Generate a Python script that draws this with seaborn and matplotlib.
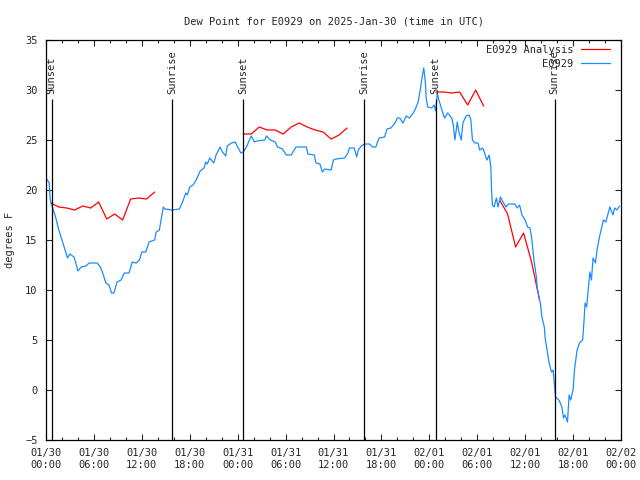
import numpy as np
import pandas as pd
import matplotlib
matplotlib.use("Agg")
import matplotlib.pyplot as plt
import matplotlib.dates as mdates
from matplotlib.ticker import MultipleLocator
import seaborn as sns

start = pd.Timestamp("2025-01-30 00:00")

# station obs, hours after 01/30 00:00 UTC and dew point in F
obs_hours = [0.0, 0.1, 0.4, 0.5, 0.6, 0.8, 1.2, 1.6, 2.0, 2.5, 2.7, 3.0, 3.5, 3.7, 4.0, 4.4,
             5.0, 5.4, 6.4, 6.8, 7.1, 7.5, 7.9, 8.2, 8.5, 8.9, 9.4, 9.8, 10.4, 10.8, 11.3, 11.7,
             12.0, 12.5, 12.9, 13.6, 13.8, 14.2, 14.4, 14.7, 14.9, 15.8, 16.7, 17.1, 17.5, 17.7,
             18.0, 18.4, 18.8, 19.3, 19.8, 20.0, 20.2, 20.5, 21.0, 21.3, 21.8, 22.1, 22.5, 22.7,
             23.2, 23.7, 24.0, 24.4, 24.7, 25.1, 25.7, 26.1, 26.4, 27.4, 27.6, 28.1, 28.7, 29.0,
             29.6, 30.1, 30.7, 31.3, 31.7, 32.6, 32.8, 33.6, 33.8, 34.3, 34.6, 34.9, 35.7, 36.0,
             36.3, 37.4, 37.8, 38.0, 38.6, 38.9, 39.1, 39.5, 39.9, 40.5, 40.9, 41.3, 41.7, 42.4,
             42.7, 43.2, 43.7, 44.0, 44.3, 44.7, 45.1, 45.5, 46.0, 46.3, 46.6, 46.9, 47.1, 47.3,
             47.5, 47.6, 47.8, 48.3, 48.6, 48.8, 49.0, 49.2, 49.5, 49.9, 50.3, 50.8, 51.0, 51.2,
             51.5, 51.7, 52.0, 52.2, 52.6, 53.0, 53.2, 53.4, 53.7, 54.1, 54.3, 54.7, 55.0, 55.2,
             55.5, 55.7, 55.8, 55.9, 56.1, 56.4, 56.6, 56.9, 57.3, 57.6, 57.9, 58.7, 59.0, 59.3,
             59.6, 60.0, 60.3, 60.6, 60.8, 61.1, 61.4, 61.5, 61.8, 61.9, 62.1, 62.4, 62.5, 62.8,
             63.0, 63.3, 63.5, 63.7, 63.8, 64.2, 64.4, 64.6, 64.8, 65.0, 65.3, 65.5, 65.7, 66.0,
             66.2, 66.5, 66.8, 67.2, 67.4, 67.5, 67.7, 67.9, 68.1, 68.3, 68.5, 68.8, 69.0, 69.3,
             69.6, 69.8, 70.1, 70.4, 70.6, 71.0, 71.2, 71.5, 71.8]
obs_dewpt = [21.0, 21.1, 20.7, 19.3, 18.8, 18.3, 17.3, 16.0, 15.0, 13.7, 13.2, 13.6, 13.3, 12.8, 11.9, 12.3,
             12.4, 12.7, 12.7, 12.3, 11.7, 10.7, 10.5, 9.7, 9.7, 10.8, 11.0, 11.7, 11.7, 12.8, 12.7, 13.0,
             13.8, 13.8, 14.8, 15.0, 15.8, 16.0, 17.0, 18.3, 18.1, 18.0, 18.1, 18.8, 19.7, 19.5,
             20.3, 20.5, 21.0, 21.9, 22.2, 22.8, 22.6, 23.2, 22.7, 23.5, 24.3, 23.8, 23.4, 24.4,
             24.7, 24.8, 24.3, 23.7, 23.8, 24.3, 25.4, 24.8, 24.9, 25.0, 25.4, 25.0, 24.8, 24.3,
             24.1, 23.5, 23.5, 24.3, 24.3, 24.3, 23.6, 23.5, 22.7, 22.6, 21.8, 22.1, 22.0, 23.0,
             23.1, 23.2, 23.7, 24.2, 24.2, 23.3, 24.0, 24.4, 24.6, 24.6, 24.3, 24.3, 25.2, 25.3,
             26.1, 26.2, 26.7, 27.2, 27.2, 26.7, 27.4, 27.2, 27.7, 28.2, 28.8, 30.2, 31.3, 32.2,
             30.8, 29.2, 28.3, 28.2, 28.5, 27.9, 29.7, 29.0, 28.2, 27.2, 27.7, 27.2, 26.5, 25.0,
             26.8, 25.8, 25.0, 26.7, 27.4, 27.5, 27.0, 25.0, 24.7, 24.7, 24.0, 24.2, 23.5, 23.0,
             23.5, 22.3, 19.8, 18.5, 18.3, 19.2, 18.3, 19.3, 18.7, 18.3, 18.6, 18.6, 18.2, 18.5,
             17.5, 17.0, 16.3, 16.2, 15.3, 13.0, 11.3, 10.3, 9.0, 8.7, 7.3, 6.3, 5.2, 3.7,
             2.7, 1.8, 2.0, 0.2, -0.7, -1.0, -1.3, -1.7, -2.8, -2.5, -3.2, -0.5, -1.0, 0.0,
             2.2, 4.0, 4.7, 5.0, 7.3, 8.7, 8.3, 10.0, 11.8, 11.0, 13.2, 12.7, 14.0, 15.3,
             16.3, 17.0, 16.8, 17.7, 18.3, 17.5, 18.2, 18.0, 18.4]

# hourly analysis, comes in four pieces
ana_hours = [0.6, 1.6, 2.6, 3.6, 4.6, 5.6, 6.6, 7.6, 8.6, 9.6, 10.6, 11.6, 12.6, 13.6,
             24.7, 25.7, 26.7, 27.7, 28.7, 29.7, 30.7, 31.7, 32.7, 33.7, 34.7, 35.7, 36.7, 37.7,
             48.8, 49.8, 50.8, 51.8, 52.8, 53.8, 54.8,
             56.8, 57.8, 58.8, 59.8, 60.8, 61.8]
ana_dewpt = [18.7, 18.3, 18.2, 18.0, 18.4, 18.2, 18.8, 17.1, 17.6, 17.0, 19.1, 19.2, 19.1, 19.8,
             25.6, 25.6, 26.3, 26.0, 26.0, 25.6, 26.3, 26.7, 26.3, 26.0, 25.8, 25.1, 25.5, 26.2,
             29.8, 29.8, 29.7, 29.8, 28.5, 30.0, 28.4,
             19.0, 17.6, 14.3, 15.7, 12.8, 9.0]

event_hours = [0.7, 15.75, 24.7, 39.8, 48.8, 63.7]
event_names = ["Sunset", "Sunrise", "Sunset", "Sunrise", "Sunset", "Sunrise"]

ana_piece = np.cumsum(np.diff(ana_hours, prepend=ana_hours[0]) > 1.5) + 1

obs = pd.DataFrame({"time": start + pd.to_timedelta(obs_hours, unit="h"),
                    "dewpt": obs_dewpt, "series": "E0929", "piece": 0})
ana = pd.DataFrame({"time": start + pd.to_timedelta(ana_hours, unit="h"),
                    "dewpt": ana_dewpt, "series": "E0929 Analysis", "piece": ana_piece})
df = pd.concat([ana, obs], ignore_index=True)

sns.set_style("ticks")
plt.rcParams['font.family'] = ['DejaVu Sans Mono']
plt.rcParams['font.size'] = 7.5

fig = plt.figure(figsize=(6.4, 4.8), dpi=100)
ax = fig.add_axes([46 / 640, 40 / 480, 575 / 640, 400 / 480])

sns.lineplot(data=df, x="time", y="dewpt", hue="series", units="piece", estimator=None,
             hue_order=["E0929 Analysis", "E0929"],
             palette={"E0929 Analysis": "#ff0000", "E0929": "#1a8cff"},
             linewidth=0.9, ax=ax)

# sunrise / sunset markers
ev_times = start + pd.to_timedelta(event_hours, unit="h")
ax.vlines(ev_times, -5, 29.1, color="black", linewidth=0.9)
for t, name in zip(ev_times, event_names):
    ax.text(t, 29.6, name, rotation=90, ha="center", va="bottom", fontsize=7.5)

ax.set_xlim(start, start + pd.Timedelta(hours=72))
ax.set_ylim(-5, 35)
ax.yaxis.set_major_locator(MultipleLocator(5))
ax.xaxis.set_major_locator(mdates.HourLocator(byhour=range(0, 24, 6)))
ax.xaxis.set_minor_locator(mdates.HourLocator(byhour=range(0, 24, 2)))
ax.xaxis.set_major_formatter(mdates.DateFormatter("%m/%d\n%H:%M"))
ax.tick_params(which="both", direction="in", top=True, right=True, width=0.8, labelsize=7.5)
ax.tick_params(which="major", length=4, pad=6)
ax.tick_params(which="minor", length=2.5)
for s in ax.spines.values():
    s.set_linewidth(0.9)
    s.set_color("black")

ax.set_xlabel("")
ax.set_ylabel("degrees F", fontsize=7.5, labelpad=7)
ax.set_title("Dew Point for E0929 on 2025-Jan-30 (time in UTC)", fontsize=7.5, pad=11)

handles, labels = ax.get_legend_handles_labels()
ax.legend(handles, labels, loc="upper right", bbox_to_anchor=(0.992, 1.003), markerfirst=False,
          frameon=False, handlelength=2.8, handletextpad=0.7, labelspacing=0.35,
          fontsize=7.5, borderaxespad=0.2)

fig.savefig("out.png", dpi=100)
